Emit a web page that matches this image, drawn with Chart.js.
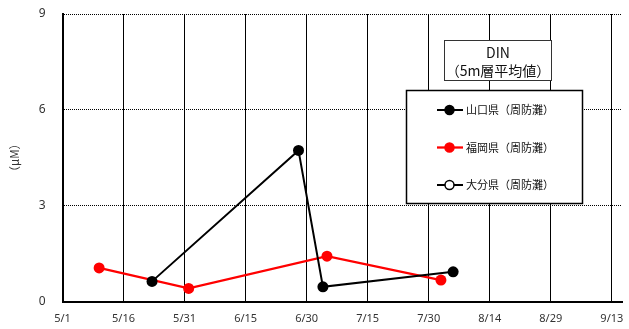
<!DOCTYPE html>
<html>
<head>
<meta charset="utf-8">
<script src="https://cdn.jsdelivr.net/npm/chart.js@4.4.1/dist/chart.umd.min.js"></script>
<style>
  html, body { margin: 0; padding: 0; background: #fff; }
  #wrap { width: 629px; height: 329px; position: relative; }
</style>
</head>
<body>
<div id="wrap"><canvas id="din"></canvas></div>
<script>
// 観測日（月/日）と DIN 濃度（μM）
const tickLabels = ['5/1', '5/16', '5/31', '6/15', '6/30', '7/15', '7/30', '8/14', '8/29', '9/13'];
const yTicks = [0, 3, 6, 9];

const yamaguchiDates = ['5/23', '6/28', '7/4', '8/5'];
const yamaguchiValues = [0.63, 4.73, 0.46, 0.93];

const fukuokaDates = ['5/10', '6/1', '7/5', '8/2'];
const fukuokaValues = [1.05, 0.41, 1.42, 0.67];

const oitaDates = [];
const oitaValues = [];

const seriesNames = ['山口県（周防灘）', '福岡県（周防灘）', '大分県（周防灘）'];
const titleLines = ['DIN', '（5m層平均値）'];
const yTitle = '（μM）';

// 5/1 からの経過日数
function dayOf(md) {
  const [m, d] = md.split('/').map(Number);
  return Math.round((Date.UTC(2020, m - 1, d) - Date.UTC(2020, 4, 1)) / 86400000);
}
const toPoints = (dates, vals) => dates.map((d, i) => ({ x: dayOf(d), y: vals[i] }));
const tickDays = tickLabels.map(dayOf);

const JP = '"Noto Sans CJK JP", "Noto Sans", sans-serif';

// 凡例とタイトル枠
const boxes = {
  id: 'boxes',
  afterDraw(chart) {
    const ctx = chart.ctx;
    ctx.save();
    // タイトル枠
    ctx.fillStyle = '#fff';
    ctx.strokeStyle = '#333';
    ctx.lineWidth = 1;
    ctx.fillRect(444, 40, 108, 41);
    ctx.strokeRect(444.5, 40.5, 107, 40);
    ctx.fillStyle = '#111';
    ctx.font = '14px ' + JP;
    ctx.textAlign = 'center';
    ctx.textBaseline = 'middle';
    ctx.fillText(titleLines[0], 498, 53);
    ctx.fillText(titleLines[1], 498, 71);

    // 凡例
    ctx.fillStyle = '#fff';
    ctx.fillRect(406, 90, 177, 114);
    ctx.strokeStyle = '#000';
    ctx.lineWidth = 1.5;
    ctx.strokeRect(406.5, 90.5, 176, 113);
    const rows = [110, 147.5, 185];
    chart.data.datasets.forEach((ds, i) => {
      const y = rows[i];
      ctx.strokeStyle = ds.borderColor;
      ctx.lineWidth = ds.borderWidth;
      ctx.beginPath();
      ctx.moveTo(437, y);
      ctx.lineTo(463, y);
      ctx.stroke();
      ctx.beginPath();
      ctx.arc(449.5, y, 4.5, 0, Math.PI * 2);
      ctx.fillStyle = ds.pointBackgroundColor;
      ctx.fill();
      ctx.lineWidth = 1.5;
      ctx.strokeStyle = ds.pointBorderColor;
      ctx.stroke();
      ctx.fillStyle = '#111';
      ctx.font = '11px ' + JP;
      ctx.textAlign = 'left';
      ctx.textBaseline = 'middle';
      ctx.fillText(ds.label, 466, y);
    });
    ctx.restore();
  }
};

new Chart(document.getElementById('din'), {
  type: 'line',
  data: {
    datasets: [
      {
        label: seriesNames[0],
        data: toPoints(yamaguchiDates, yamaguchiValues),
        borderColor: '#000',
        borderWidth: 2,
        pointBackgroundColor: '#000',
        pointBorderColor: '#000',
        pointRadius: 5.5,
        pointBorderWidth: 0
      },
      {
        label: seriesNames[1],
        data: toPoints(fukuokaDates, fukuokaValues),
        borderColor: '#ff0000',
        borderWidth: 2.3,
        pointBackgroundColor: '#ff0000',
        pointBorderColor: '#ff0000',
        pointRadius: 5.5,
        pointBorderWidth: 0
      },
      {
        label: seriesNames[2],
        data: toPoints(oitaDates, oitaValues),
        borderColor: '#000',
        borderWidth: 2,
        pointBackgroundColor: '#fff',
        pointBorderColor: '#000',
        pointRadius: 5,
        pointBorderWidth: 1.5
      }
    ]
  },
  options: {
    responsive: true,
    maintainAspectRatio: false,
    animation: false,
    layout: { padding: { top: 14, right: 7, bottom: 0, left: 0 } },
    plugins: { legend: { display: false }, tooltip: { enabled: false } },
    scales: {
      x: {
        type: 'linear',
        min: 0,
        max: 137.5,
        afterBuildTicks: s => { s.ticks = tickDays.map(v => ({ value: v })); },
        afterFit: s => { s.height = 27.5; s.paddingLeft = 0; s.paddingRight = 0; },
        ticks: {
          callback: v => tickLabels[tickDays.indexOf(v)],
          color: '#333',
          font: { family: '"Noto Sans", sans-serif', size: 11 },
          padding: 11,
          maxRotation: 0,
          autoSkip: false
        },
        grid: { color: '#000', lineWidth: 1, drawTicks: false },
        border: { color: '#000', width: 2 }
      },
      y: {
        min: 0,
        max: 9,
        afterBuildTicks: s => { s.ticks = yTicks.map(v => ({ value: v })); },
        afterFit: s => { s.width = 62.5; s.paddingTop = 0; s.paddingBottom = 0; },
        ticks: {
          color: '#333',
          font: { family: '"Noto Sans", sans-serif', size: 12 },
          padding: 17
        },
        grid: { color: '#000', lineWidth: 1, drawTicks: false },
        border: { color: '#000', width: 2, dash: [1, 1] },
        title: {
          display: true,
          text: yTitle,
          color: '#333',
          font: { family: JP, size: 11.5 },
          padding: { top: 8, bottom: 0 }
        }
      }
    }
  },
  plugins: [boxes]
});
</script>
</body>
</html>
